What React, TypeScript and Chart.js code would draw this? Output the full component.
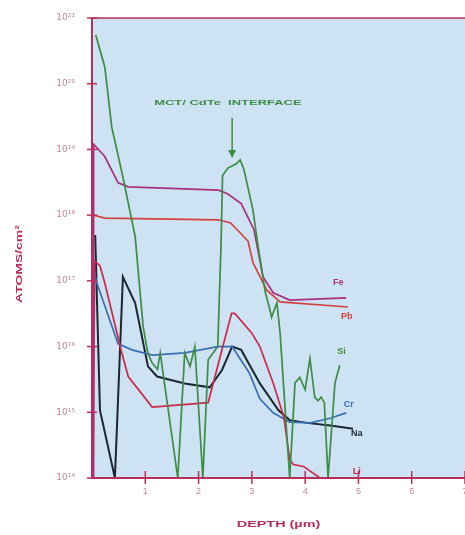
import React, { useEffect, useRef } from "react";
import { Chart, registerables } from "chart.js";

Chart.register(...registerables);

// ---- data ----
const siX = [0.07, 0.24, 0.37, 0.58, 0.81, 0.96, 1.05, 1.13, 1.23, 1.28, 1.61, 1.74, 1.84, 1.93, 2.08, 2.18, 2.36, 2.42, 2.45, 2.55, 2.7, 2.78, 2.85, 3.02, 3.11, 3.25, 3.34, 3.37, 3.47, 3.53, 3.71, 3.81, 3.9, 4.0, 4.09, 4.18, 4.24, 4.3, 4.36, 4.43, 4.56, 4.65];
const siY = [5.5e20, 1.8e20, 2.2e19, 3.8e18, 4.7e17, 2e16, 7.9e15, 5.6e15, 4.5e15, 8e15, 1e14, 8e15, 5e15, 1e16, 1e14, 6.3e15, 1e16, 3.2e17, 4e18, 5.2e18, 6e18, 6.9e18, 5e18, 1.2e18, 3.7e17, 6.8e16, 3.6e16, 2.8e16, 4.6e16, 1.6e16, 1e14, 2.8e15, 3.4e15, 2.2e15, 6.6e15, 1.7e15, 1.5e15, 1.7e15, 1.4e15, 1e14, 2.8e15, 5.2e15];

const feX = [0.02, 0.03, 0.24, 0.49, 0.68, 2.38, 2.55, 2.8, 3.04, 3.21, 3.4, 3.71, 4.77];
const feY = [1e14, 1.2e19, 7.8e18, 3.1e18, 2.7e18, 2.4e18, 2.1e18, 1.5e18, 6e17, 1.15e17, 6.6e16, 5.1e16, 5.5e16];

const pbX = [0.03, 0.24, 2.38, 2.6, 2.78, 2.93, 3.02, 3.28, 3.53, 4.8];
const pbY = [1e18, 9e17, 8.5e17, 7.6e17, 5.4e17, 4e17, 1.9e17, 7.2e16, 4.8e16, 4e16];

const liX = [0.02, 0.05, 0.15, 0.24, 0.56, 0.68, 1.13, 2.18, 2.44, 2.62, 2.68, 3.0, 3.15, 3.4, 3.6, 3.71, 3.78, 3.97, 4.28, 4.7];
const liY = [1e14, 2e17, 1.7e17, 9.3e16, 8e15, 3.5e15, 1.2e15, 1.4e15, 9e15, 3.2e16, 3.2e16, 1.6e16, 1e16, 2.8e15, 8.5e14, 1.9e14, 1.6e14, 1.5e14, 1e14, 1e14];

const naX = [0.06, 0.09, 0.15, 0.43, 0.58, 0.81, 1.05, 1.22, 1.74, 2.21, 2.44, 2.63, 2.8, 3.15, 3.5, 3.71, 4.03, 4.47, 4.9];
const naY = [5e17, 6.3e16, 1.07e15, 1e14, 1.15e17, 4.6e16, 5e15, 3.5e15, 2.75e15, 2.4e15, 4.4e15, 1e16, 8.9e15, 2.75e15, 1.07e15, 7.6e14, 6.9e14, 6.3e14, 5.6e14];

const crX = [0.05, 0.09, 0.49, 0.75, 1.13, 1.74, 2.36, 2.63, 2.95, 3.15, 3.4, 3.71, 4.1, 4.47, 4.77];
const crY = [1.26e17, 9.3e16, 1.1e16, 8.9e15, 7.4e15, 8e15, 1e16, 1e16, 4e15, 1.6e15, 9.8e14, 7.1e14, 6.9e14, 8.1e14, 9.8e14];

const seriesNames = ["Si", "Fe", "Pb", "Li", "Cr", "Na"];
const xTickValues = [1, 2, 3, 4, 5, 6, 7];
const xTickLabels = ["1", "2", "3", "4", "5", "6", "7"];
const yTickValues = [1e14, 1e15, 1e16, 1e17, 1e18, 1e19, 1e20, 1e21];
const yTickLabels = ["10¹⁴", "10¹⁵", "10¹⁶", "10¹⁷", "10¹⁸", "10¹⁹", "10²⁰", "10²¹"];

// label anchor points (data coords)
const labelX = [4.68, 4.62, 4.78, 4.97, 4.82, 4.97];
const labelY = [8.3e15, 9.3e16, 2.9e16, 1.25e14, 1.3e15, 4.8e14];

const interfaceText = "MCT/ CdTe  INTERFACE";
const interfaceX = 2.55;
const interfaceY = 5.1e19;
const arrowX = 2.63;
const arrowFrom = 3.0e19;
const arrowTo = 7.4e18;

const xTitle = "DEPTH (µm)";
const yTitle = "ATOMS/cm²";

const CRIMSON = "#b82e5a";
const TICKTXT = "#c3849a";
const FONT = "'Liberation Sans', Arial, sans-serif";

const colors: Record<string, string> = {
  Si: "#3d8b45",
  Fe: "#a8307e",
  Pb: "#d2403f",
  Li: "#cc2848",
  Cr: "#3a6fb5",
  Na: "#1c2630",
};

function pts(xs: number[], ys: number[]) {
  return xs.map((x, i) => ({ x, y: ys[i] }));
}

const seriesData: Record<string, { x: number; y: number }[]> = {
  Si: pts(siX, siY),
  Fe: pts(feX, feY),
  Pb: pts(pbX, pbY),
  Li: pts(liX, liY),
  Cr: pts(crX, crY),
  Na: pts(naX, naY),
};

const decor = {
  id: "decor",
  beforeDraw(chart: any) {
    const { ctx, chartArea: a } = chart;
    ctx.save();
    ctx.fillStyle = "#cde3f3";
    ctx.fillRect(a.left, a.top, a.right - a.left + 10, a.bottom - a.top);
    ctx.restore();
  },
  afterDraw(chart: any) {
    const { ctx, chartArea: a } = chart;
    const xs = chart.scales.x;
    const ys = chart.scales.y;
    ctx.save();
    // top border
    ctx.strokeStyle = CRIMSON;
    ctx.lineWidth = 1.5;
    ctx.beginPath();
    ctx.moveTo(a.left, a.top);
    ctx.lineTo(a.right + 10, a.top);
    ctx.stroke();
    // left & bottom axes
    ctx.lineWidth = 2;
    ctx.beginPath();
    ctx.moveTo(a.left, a.top);
    ctx.lineTo(a.left, a.bottom);
    ctx.lineTo(a.right + 10, a.bottom);
    ctx.stroke();
    // tick marks crossing axes
    ctx.lineWidth = 1.5;
    xTickValues.forEach((v) => {
      const px = xs.getPixelForValue(v);
      ctx.beginPath();
      ctx.moveTo(px, a.bottom - 7);
      ctx.lineTo(px, a.bottom + 6);
      ctx.stroke();
    });
    yTickValues.forEach((v) => {
      const py = ys.getPixelForValue(v);
      ctx.beginPath();
      ctx.moveTo(a.left - 5, py);
      ctx.lineTo(a.left + 5, py);
      ctx.stroke();
    });
    // series labels
    ctx.font = `bold 9px ${FONT}`;
    ctx.textAlign = "center";
    ctx.textBaseline = "middle";
    seriesNames.forEach((n, i) => {
      ctx.fillStyle = colors[n];
      ctx.fillText(n, xs.getPixelForValue(labelX[i]), ys.getPixelForValue(labelY[i]));
    });
    // interface annotation
    ctx.fillStyle = colors.Si;
    ctx.font = `bold 8px ${FONT}`;
    ctx.save();
    const ix = xs.getPixelForValue(interfaceX);
    const iy = ys.getPixelForValue(interfaceY);
    ctx.translate(ix, iy);
    ctx.scale(1.62, 1);
    ctx.fillText(interfaceText, 0, 0);
    ctx.restore();
    const ax = xs.getPixelForValue(arrowX);
    const ay0 = ys.getPixelForValue(arrowFrom);
    const ay1 = ys.getPixelForValue(arrowTo);
    ctx.strokeStyle = colors.Si;
    ctx.lineWidth = 1.5;
    ctx.beginPath();
    ctx.moveTo(ax, ay0);
    ctx.lineTo(ax, ay1 - 6);
    ctx.stroke();
    ctx.beginPath();
    ctx.moveTo(ax - 4, ay1 - 8);
    ctx.lineTo(ax + 4, ay1 - 8);
    ctx.lineTo(ax, ay1);
    ctx.closePath();
    ctx.fill();
    // axis titles
    ctx.fillStyle = CRIMSON;
    ctx.font = `bold 9px ${FONT}`;
    ctx.save();
    ctx.translate((a.left + a.right) / 2, 525);
    ctx.scale(1.6, 1);
    ctx.fillText(xTitle, 0, 0);
    ctx.restore();
    ctx.save();
    ctx.translate(20, 264);
    ctx.rotate(-Math.PI / 2);
    ctx.scale(1.55, 1);
    ctx.fillText(yTitle, 0, 0);
    ctx.restore();
    ctx.restore();
  },
};

export default function App() {
  const ref = useRef<HTMLCanvasElement | null>(null);
  useEffect(() => {
    if (!ref.current) return;
    const chart = new Chart(ref.current, {
      type: "line",
      data: {
        datasets: seriesNames.map((n) => ({
          label: n,
          data: seriesData[n],
          borderColor: colors[n],
          borderWidth: n === "Na" ? 2 : 1.7,
          pointRadius: 0,
          tension: 0,
          fill: false,
        })),
      },
      options: {
        animation: false,
        responsive: false,
        devicePixelRatio: 1,
        parsing: false as any,
        layout: { padding: { top: 18, right: 7, left: 0, bottom: 0 } },
        plugins: { legend: { display: false }, tooltip: { enabled: false } },
        scales: {
          x: {
            type: "linear",
            min: 0,
            max: 7,
            afterBuildTicks: (s: any) => {
              s.ticks = xTickValues.map((v) => ({ value: v }));
            },
            afterFit: (s: any) => {
              s.height = 57;
              s.paddingLeft = 0;
              s.paddingRight = 0;
            },
            ticks: {
              color: TICKTXT,
              font: { family: FONT, size: 9 },
              padding: 8,
              maxRotation: 0,
              autoSkip: false,
              callback: (_v: any, i: number) => xTickLabels[i],
            },
            grid: { display: false, drawTicks: false },
            border: { display: false },
          },
          y: {
            type: "logarithmic",
            min: 1e14,
            max: 1e21,
            afterBuildTicks: (s: any) => {
              s.ticks = yTickValues.map((v) => ({ value: v }));
            },
            afterFit: (s: any) => {
              s.width = 92;
              s.paddingTop = 0;
              s.paddingBottom = 0;
            },
            ticks: {
              color: TICKTXT,
              font: { family: "'DejaVu Sans', sans-serif", size: 9 },
              padding: 17,
              autoSkip: false,
              callback: (_v: any, i: number) => yTickLabels[i],
            },
            grid: { display: false, drawTicks: false },
            border: { display: false },
          },
        },
      },
      plugins: [decor],
    });
    return () => chart.destroy();
  }, []);
  return (
    <div style={{ position: "fixed", left: 0, top: 0, width: 465, height: 535, overflow: "hidden", background: "#fff" }}>
      <canvas ref={ref} width={472} height={535} style={{ width: 472, height: 535, display: "block" }} />
    </div>
  );
}
